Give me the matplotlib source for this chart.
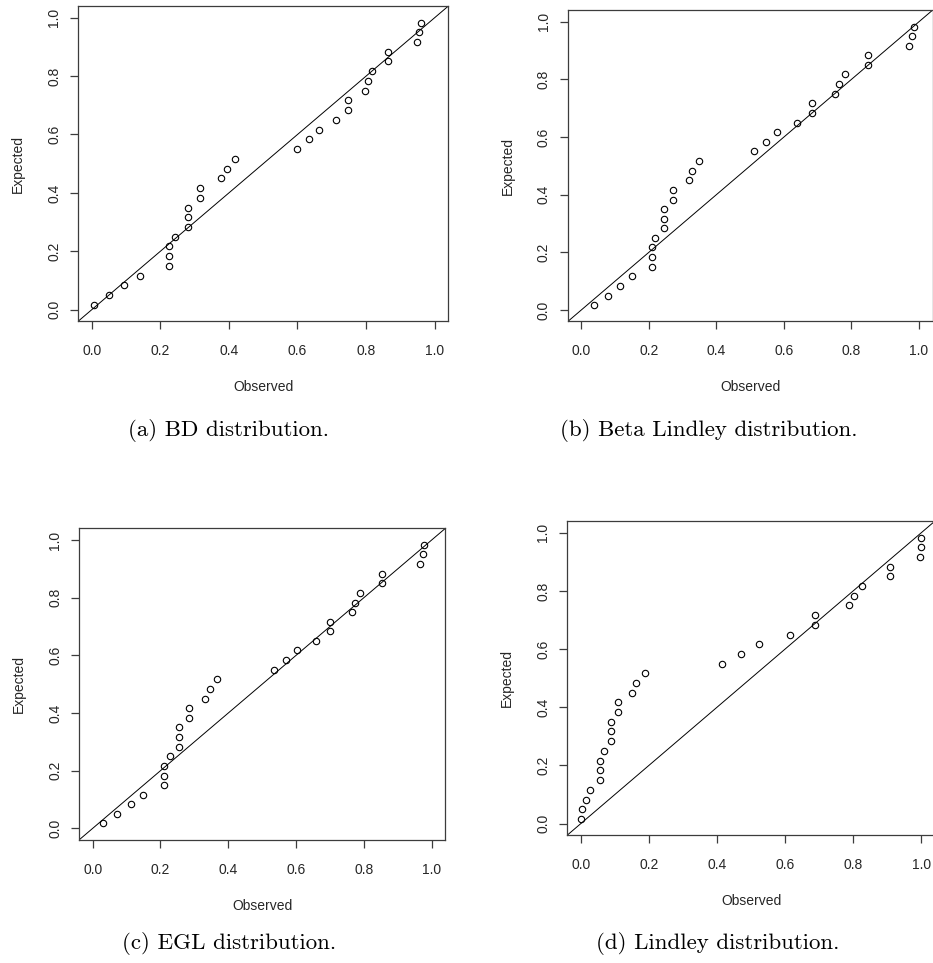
import matplotlib
matplotlib.use("Agg")
import matplotlib.pyplot as plt

# ---- data ----
expected = [0.017, 0.050, 0.083, 0.117, 0.150, 0.183, 0.217, 0.250, 0.283, 0.317,
            0.350, 0.383, 0.417, 0.450, 0.483, 0.517, 0.550, 0.583, 0.617, 0.650,
            0.683, 0.717, 0.750, 0.783, 0.817, 0.850, 0.883, 0.917, 0.950, 0.983]

obs_bd = [0.008, 0.050, 0.094, 0.142, 0.224, 0.224, 0.224, 0.243, 0.282, 0.282,
          0.282, 0.315, 0.315, 0.378, 0.393, 0.418, 0.600, 0.633, 0.664, 0.713,
          0.748, 0.748, 0.798, 0.807, 0.818, 0.865, 0.865, 0.948, 0.953, 0.959]

obs_beta_lindley = [0.038, 0.080, 0.115, 0.149, 0.208, 0.208, 0.208, 0.219, 0.246, 0.246,
                    0.246, 0.271, 0.271, 0.318, 0.327, 0.348, 0.512, 0.548, 0.580, 0.639,
                    0.684, 0.684, 0.752, 0.764, 0.780, 0.850, 0.850, 0.970, 0.979, 0.985]

obs_egl = [0.030, 0.071, 0.113, 0.149, 0.211, 0.211, 0.211, 0.229, 0.256, 0.256,
           0.256, 0.284, 0.284, 0.331, 0.345, 0.367, 0.535, 0.570, 0.602, 0.660,
           0.701, 0.701, 0.764, 0.773, 0.790, 0.853, 0.853, 0.967, 0.974, 0.977]

obs_lindley = [0.000, 0.005, 0.016, 0.026, 0.058, 0.058, 0.058, 0.068, 0.088, 0.088,
               0.088, 0.108, 0.108, 0.152, 0.163, 0.188, 0.415, 0.471, 0.523, 0.614,
               0.687, 0.687, 0.787, 0.802, 0.825, 0.908, 0.908, 0.997, 1.000, 1.000]

captions = ["(a) BD distribution.", "(b) Beta Lindley distribution.",
            "(c) EGL distribution.", "(d) Lindley distribution."]
tick_values = [0.0, 0.2, 0.4, 0.6, 0.8, 1.0]
tick_labels = ["0.0", "0.2", "0.4", "0.6", "0.8", "1.0"]

W, H = 933, 963
fig = plt.figure(figsize=(W / 100, H / 100), dpi=100)

# axes boxes in pixels: left, right, top, bottom
boxes = [(78, 448.4, 6, 321.4),
         (567.8, 932.5, 10.2, 321.5),
         (79.1, 445.2, 528.5, 839.9),
         (567.1, 934.9, 521.1, 835.3)]
caption_pos = [(228, 431), (709, 431), (229, 943), (718, 943)]
series = [obs_bd, obs_beta_lindley, obs_egl, obs_lindley]

sans = "Liberation Sans"
txt_col = "#262626"
spine_col = "#3c3c3c"

for (L, R, T, B), obs, cap, (cx, cy) in zip(boxes, series, captions, caption_pos):
    ax = fig.add_axes([L / W, 1 - B / H, (R - L) / W, (B - T) / H])
    ax.plot(obs, expected, linestyle="none", marker="o", markersize=4.6,
            markerfacecolor="none", markeredgecolor="black", markeredgewidth=0.8)
    ax.axline((0, 0), (1, 1), color="black", linewidth=0.7)
    ax.set_xlim(-0.04, 1.04)
    ax.set_ylim(-0.04, 1.04)
    ax.set_xticks(tick_values)
    ax.set_xticklabels(tick_labels, fontfamily=sans, fontsize=10, color=txt_col)
    ax.set_yticks(tick_values)
    ax.set_yticklabels(tick_labels, fontfamily=sans, fontsize=10, color=txt_col,
                       rotation=90, va="center")
    ax.tick_params(axis="x", length=5.8, width=0.9, color=spine_col, pad=10.5)
    ax.tick_params(axis="y", length=5.8, width=0.9, color=spine_col, pad=6.3)
    for s in ax.spines.values():
        s.set_color(spine_col)
        s.set_linewidth(0.9)
    hpx = B - T
    wpx = R - L
    ax.set_xlabel("Observed", fontfamily=sans, fontsize=10, color=txt_col)
    ax.xaxis.label.set_va("center")
    ax.xaxis.set_label_coords(0.5, -65.6 / hpx)
    ax.set_ylabel("Expected", fontfamily=sans, fontsize=10, color=txt_col)
    ax.yaxis.label.set_va("center")
    ax.yaxis.set_label_coords(-60.0 / wpx, 0.5)
    fig.text(cx / W, 1 - cy / H, cap, fontfamily="cmr10", fontsize=16.5,
             ha="center", va="center", color="black")

fig.savefig("out.png", dpi=100)
